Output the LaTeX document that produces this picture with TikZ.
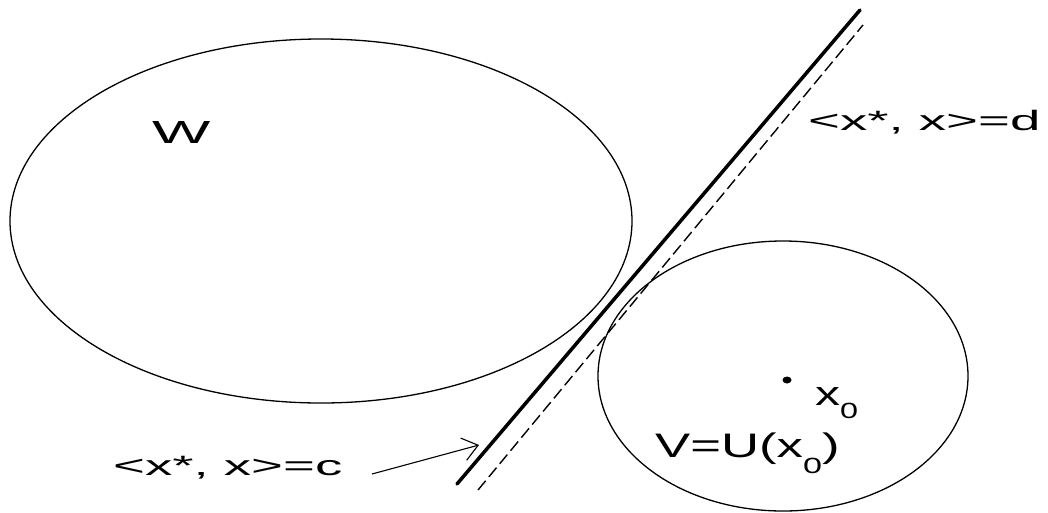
\documentclass[tikz,border=0pt]{standalone}
\usepackage{fontspec}
\setmainfont{Liberation Sans}
\usetikzlibrary{arrows.meta}
\tikzset{
  setline/.style={line width=1.3pt, black},
  sepline/.style={line width=3.5pt, black, line cap=round},
  dashline/.style={line width=1.4pt, black, dash pattern=on 12pt off 5pt},
  lbl/.style={inner sep=0pt, anchor=base west},
  pointer/.style={line width=1.1pt, -{Straight Barb[length=15pt,width=23pt,line width=1.1pt]}}
}
\newcommand{\lblfont}{\fontsize{28}{28}\selectfont}
\newcommand{\bigfont}{\fontsize{34}{34}\selectfont}
\newcommand{\subzero}[1]{\raisebox{-#1pt}{\fontsize{22}{22}\selectfont 0}}
\begin{document}
\begin{tikzpicture}[x=1pt,y=-1pt]
  \useasboundingbox (0,0) rectangle (1048,512);
  \fill[white] (0,0) rectangle (1048,512);
  % sets
  \draw[setline] (321,221) ellipse [x radius=311, y radius=182];
  \draw[setline] (783,376) ellipse [x radius=185, y radius=135];
  % separating lines
  \coordinate (s1) at (457,484);
  \coordinate (s2) at (860,10);
  \coordinate (d1) at (478,490);
  \coordinate (d2) at (863,25);
  \draw[sepline] (s1) -- (s2);
  \draw[dashline] (d1) -- (d2);
  % point x0
  \fill[black] (787,380) ellipse [x radius=4.5, y radius=3.5];
  \coordinate (x0) at (787,380);
  % labels
  \node[lbl] (W) at (152,143) {\scalebox{1.93}[1]{\fontsize{32}{32}\selectfont W}};
  \node[lbl] (ld) at (808,130) {\scalebox{1.95}[1]{\lblfont <x*, x>=d}};
  \node[lbl] (lc) at (113,475) {\scalebox{1.95}[1]{\lblfont <x*, x>=c}};
  \node[lbl] (lx0) at (815,405) {\scalebox{1.47}[1]{\bigfont x\subzero{13}}};
  \node[lbl] (lV) at (655,457) {\scalebox{1.55}[1]{\bigfont V=U(x\subzero{16})}};
  % arrow
  \coordinate (atail) at (372,474);
  \coordinate (atip) at (479,445);
  \draw[pointer] (atail) -- (atip);
\end{tikzpicture}
\end{document}
